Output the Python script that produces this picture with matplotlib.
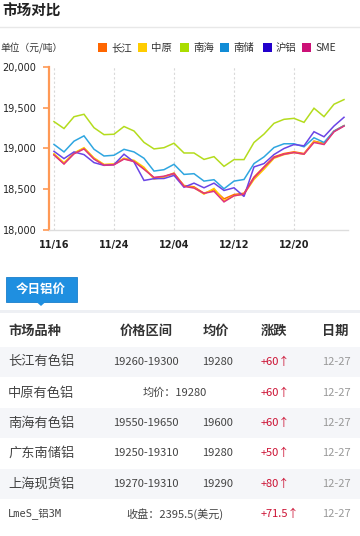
import matplotlib
matplotlib.use("Agg")
import matplotlib.pyplot as plt
from matplotlib.patches import Rectangle, Polygon

plt.rcParams['font.family'] = ['Noto Sans CJK SC', 'DejaVu Sans']

# ---------------- data ----------------
dates = ["11/16", "11/17", "11/20", "11/21", "11/22", "11/23", "11/24", "11/27", "11/28", "11/29",
         "11/30", "12/01", "12/04", "12/05", "12/06", "12/07", "12/08", "12/11", "12/12", "12/13",
         "12/14", "12/15", "12/18", "12/19", "12/20", "12/21", "12/22", "12/25", "12/26", "12/27"]
tick_labels = ["11/16", "11/24", "12/04", "12/12", "12/20"]

changjiang = [18925, 18815, 18940, 19000, 18876, 18800, 18805, 18876, 18843, 18753,
              18640, 18655, 18690, 18546, 18530, 18451, 18495, 18382, 18435, 18451,
              18650, 18774, 18897, 18938, 18959, 18938, 19091, 19062, 19214, 19280]
zhongyuan = [18935, 18825, 18945, 19010, 18885, 18805, 18810, 18880, 18855, 18770,
             18625, 18650, 18700, 18540, 18520, 18440, 18510, 18360, 18420, 18440,
             18620, 18745, 18880, 18925, 18950, 18930, 19085, 19055, 19210, 19280]
nanhai = [19330, 19245, 19390, 19420, 19255, 19170, 19175, 19270, 19215, 19075,
          18995, 19010, 19065, 18945, 18945, 18866, 18900, 18781, 18864, 18864,
          19074, 19177, 19309, 19358, 19370, 19321, 19494, 19391, 19543, 19600]
nanchu = [19050, 18958, 19090, 19155, 18991, 18908, 18917, 18990, 18958, 18880,
          18723, 18740, 18806, 18682, 18691, 18600, 18617, 18506, 18600, 18620,
          18815, 18897, 19012, 19058, 19058, 19021, 19132, 19074, 19214, 19280]
hulv = [18965, 18876, 18958, 18925, 18827, 18793, 18802, 18930, 18834, 18608,
        18630, 18632, 18670, 18525, 18575, 18518, 18575, 18485, 18518, 18411,
        18774, 18815, 18926, 19000, 19049, 19033, 19206, 19144, 19276, 19383]
sme = [18920, 18810, 18935, 18995, 18870, 18795, 18800, 18870, 18840, 18745,
       18645, 18660, 18695, 18535, 18515, 18450, 18475, 18345, 18420, 18440,
       18640, 18770, 18890, 18930, 18950, 18930, 19074, 19049, 19205, 19275]

series_names = ["长江", "中原", "南海", "南储", "沪铝", "SME"]
series_values = [changjiang, zhongyuan, nanhai, nanchu, hulv, sme]
series_colors = ["#ff6a00", "#ffcc00", "#b4dc1e", "#2fa6e0", "#6a45e6", "#e0337f"]
legend_colors = ["#ff6600", "#ffcc00", "#aadd00", "#118cd6", "#2200cc", "#cc1177"]

yticks = [18000, 18500, 19000, 19500, 20000]

table_header = ["市场品种", "价格区间", "均价", "涨跌", "日期"]
row_names = ["长江有色铝", "中原有色铝", "南海有色铝", "广东南储铝", "上海现货铝", "LmeS_铝3M"]
row_ranges = ["19260-19300", "均价：19280", "19550-19650", "19250-19310", "19270-19310", "收盘：2395.5(美元)"]
row_avgs = ["19280", "", "19600", "19280", "19290", ""]
row_changes = ["+60", "+60", "+60", "+50", "+80", "+71.5"]
row_dates = ["12-27"] * 6

# ---------------- figure ----------------
W, H = 360, 536
fig = plt.figure(figsize=(W / 100, H / 100), dpi=100)
fig.patch.set_facecolor("white")


def fx(x):
    return x / W


def fy(y):
    return 1 - y / H


# title
fig.text(fx(2), fy(11), "市场对比", fontsize=10.5, fontweight="bold", color="#222222",
         ha="left", va="center")
fig.add_artist(plt.Line2D([0, 1], [fy(27), fy(27)], color="#e8e8e8", lw=1))

# unit + legend
fig.text(fx(0), fy(48), "单位（元/吨）", fontsize=7, color="#333333", ha="left", va="center")
leg_sq_x = [98, 138, 180, 220, 263, 302]
for name, c, sx in zip(series_names, legend_colors, leg_sq_x):
    fig.add_artist(Rectangle((fx(sx), fy(52)), fx(9), 9 / H, facecolor=c, edgecolor="none"))
    fig.text(fx(sx + 13), fy(48), name, fontsize=7.5, color="#333333", ha="left", va="center")

# chart axes
ax = fig.add_axes([fx(49), fy(230), fx(348 - 49), (230 - 67) / H])
x = list(range(len(dates)))
for vals, c in zip(series_values, series_colors):
    ax.plot(x, vals, color=c, lw=1.1, solid_joinstyle="miter")
ax.set_ylim(18000, 20000)
ax.set_xlim(-0.5, 29.4)
ax.set_yticks(yticks)
ax.set_yticklabels([f"{v:,}" for v in yticks], fontsize=7, color="#222222",
                   family=["DejaVu Sans"])
tick_pos = [dates.index(t) for t in tick_labels]
ax.set_xticks(tick_pos)
ax.set_xticklabels(tick_labels, fontsize=7, color="#222222", fontweight="bold",
                   family=["DejaVu Sans"])
ax.tick_params(axis="y", length=4, width=1.2, color="#ff9955", pad=5)
ax.tick_params(axis="x", length=0, pad=7)
ax.grid(axis="x", color="#d9d9d9", linestyle=(0, (2, 2)), lw=0.8)
for s in ["top", "right"]:
    ax.spines[s].set_visible(False)
ax.spines["left"].set_color("#ff9955")
ax.spines["left"].set_linewidth(1.6)
ax.spines["bottom"].set_color("#dddddd")
ax.spines["bottom"].set_linewidth(1)
ax.set_facecolor("white")

# tab "今日铝价"
fig.add_artist(Rectangle((fx(6), fy(302)), fx(71), 25 / H, facecolor="#1f8fe0",
                         edgecolor="#1a7fcc", lw=0.6))
fig.add_artist(Polygon([[fx(36), fy(301.5)], [fx(46), fy(301.5)], [fx(41), fy(306)]],
                       closed=True, facecolor="#1f8fe0", edgecolor="none"))
fig.text(fx(41), fy(289.5), "今日铝价", fontsize=9, fontweight="bold", color="white",
         ha="center", va="center")
fig.add_artist(Rectangle((0, fy(313)), 1, 3 / H, facecolor="#eef0f4", edgecolor="none"))

# header
col_x = [8, 146, 216, 274, 335]
for i, h in enumerate(table_header):
    fig.text(fx(col_x[i]), fy(331), h, fontsize=9.5, fontweight="bold", color="#333333",
             ha="left" if i == 0 else "center", va="center")

# rows
row_top = [347, 378, 408, 438, 469, 499]
row_h = 30
for r in range(len(row_names)):
    top = row_top[r]
    cy = top + row_h / 2
    if r % 2 == 0:
        fig.add_artist(Rectangle((0, fy(top + row_h)), 1, row_h / H, facecolor="#f5f6f9",
                                 edgecolor="none"))
    if r == len(row_names) - 1:
        fig.text(fx(8), fy(cy), row_names[r], fontsize=7.5, color="#444444", ha="left",
                 va="center", family=["DejaVu Sans Mono", "Noto Sans CJK SC"])
    else:
        fig.text(fx(8), fy(cy), row_names[r], fontsize=9.5, color="#444444", ha="left",
                 va="center")
    if row_avgs[r]:
        fig.text(fx(146), fy(cy), row_ranges[r], fontsize=8, color="#444444",
                 ha="center", va="center")
        fig.text(fx(218), fy(cy), row_avgs[r], fontsize=8, color="#444444",
                 ha="center", va="center")
    else:
        fig.text(fx(175), fy(cy), row_ranges[r], fontsize=8, color="#444444",
                 ha="center", va="center")
    fig.text(fx(261), fy(cy), row_changes[r] + "↑", fontsize=8, color="#cc1133",
             ha="left", va="center", family=["Noto Sans CJK SC", "DejaVu Sans"])
    fig.text(fx(336), fy(cy), row_dates[r], fontsize=8, color="#999999",
             ha="center", va="center")

fig.savefig("out.png", dpi=100, facecolor="white")
